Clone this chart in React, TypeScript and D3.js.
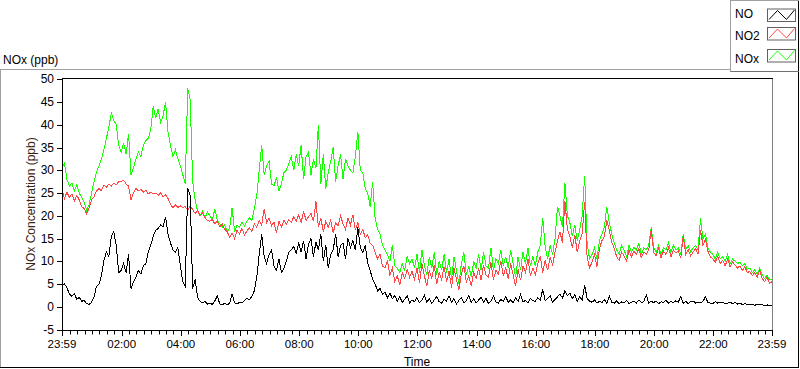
import React from 'react'
import * as d3 from 'd3'

// samples every 5 minutes, from 23:59 to 23:59 the next day (one row = one hour)
const STEP_MIN = 5

const NO_PPB = [
  4.6, 5.0, 4.2, 2.8, 2.3, 2.9, 1.6, 2.1, 1.2, 1.4, 0.7, 0.5,
  1.0, 2.2, 4.5, 5.0, 6.8, 10.2, 12.0, 11.0, 15.5, 16.5, 13.5, 7.5,
  8.0, 9.5, 7.5, 11.5, 4.0, 5.5, 6.5, 8.0, 7.2, 9.0, 9.5, 12.0,
  13.5, 15.5, 16.8, 17.2, 18.0, 17.5, 19.8, 16.0, 14.0, 12.5, 12.0, 13.0,
  9.0, 5.5, 4.5, 26.0, 24.5, 4.0, 6.0, 2.0, 1.2, 0.9, 1.2, 0.6,
  0.8, 0.5, 1.3, 2.4, 0.6, 0.4, 0.8, 0.5, 0.7, 2.8, 0.9, 0.6,
  1.0, 0.8, 1.4, 1.8, 1.6, 2.2, 3.5, 6.5, 11.5, 16.0, 11.0, 9.5,
  11.5, 12.5, 9.0, 8.0, 10.5, 7.5, 8.5, 10.0, 12.0, 12.5, 13.2, 11.8,
  14.0, 12.0, 14.5, 10.5, 13.8, 15.0, 11.0, 14.2, 12.5, 16.0, 10.0, 13.5,
  8.5, 11.5, 12.5, 16.0, 11.0, 13.5, 14.0, 10.5, 15.0, 13.0, 14.5, 12.5,
  17.5, 13.0, 12.0, 13.5, 9.5, 8.0, 6.0, 5.0, 3.5, 4.0, 2.8, 3.2,
  2.0, 3.0, 1.8, 2.5, 1.2, 2.2, 1.0, 1.6, 2.4, 0.8, 1.5, 1.1,
  2.0, 0.9, 1.4, 2.6, 1.0, 1.8, 0.7, 1.5, 2.2, 1.1, 0.8, 1.6,
  1.2, 2.4, 1.0, 1.8, 0.6, 1.4, 2.0, 0.9, 1.3, 2.5, 1.0, 1.7,
  0.8, 1.5, 2.1, 1.0, 1.8, 0.7, 1.2, 2.4, 1.1, 0.8, 1.6, 1.2,
  2.2, 1.0, 1.5, 0.8, 1.9, 1.2, 2.7, 1.0, 1.4, 0.9, 1.8, 1.3,
  1.2, 2.0, 1.5, 3.8, 1.3, 1.8, 2.4, 1.0, 1.6, 2.2, 2.8, 1.9,
  3.5, 2.5, 3.0, 1.8, 2.6, 1.2, 2.2, 1.5, 4.8, 1.8, 1.2, 1.0,
  1.5, 0.8, 1.2, 0.9, 1.6, 0.7, 2.4, 1.0, 0.8, 1.3, 0.6, 1.1,
  0.9, 1.4, 0.7, 1.0, 1.2, 0.8, 1.5, 0.9, 1.1, 2.6, 0.8, 1.2,
  0.9, 1.3, 0.7, 1.1, 1.0, 1.4, 0.8, 1.2, 0.9, 1.3, 1.0, 2.3,
  0.8, 1.2, 0.7, 1.1, 1.3, 0.8, 1.0, 0.9, 1.2, 2.2, 0.9, 0.8,
  0.7, 1.1, 0.8, 0.9, 1.0, 0.6, 0.8, 1.0, 0.7, 0.9, 0.6, 0.8,
  0.5, 0.7, 0.4, 0.6, 0.5, 0.3, 0.6, 0.4, 0.5, 0.2, 0.4, 0.3,
  0.3
]

const NO2_PPB = [
  26.0, 23.8, 25.2, 24.0, 24.8, 23.2, 24.5, 23.5, 22.0, 21.6, 20.4, 21.8,
  23.5, 24.2, 25.5, 26.0, 25.5, 26.8, 26.2, 27.0, 26.5, 27.2, 26.8, 27.5,
  27.5, 27.8, 27.0, 26.5, 23.5, 25.0, 26.0, 25.5, 25.8, 25.2, 25.6, 24.8,
  25.2, 24.8, 25.0, 24.5, 25.0, 24.2, 24.6, 23.8, 22.5, 21.8, 22.4, 21.8,
  22.2, 21.8, 22.0, 21.2, 22.2, 21.4, 20.5, 21.2, 20.0, 20.6, 19.5, 19.0,
  18.8, 19.2, 18.2, 18.8, 17.6, 18.2, 17.0, 16.5, 15.3, 16.2, 15.0, 16.8,
  16.0, 17.2, 15.8, 16.6, 17.4, 16.5, 18.2, 17.5, 19.0, 18.0, 21.5, 18.5,
  19.5, 17.8, 18.6, 16.2, 18.8, 17.5, 19.0, 18.2, 19.2, 18.5, 19.8, 18.8,
  20.2, 18.5, 21.0, 19.0, 19.8, 20.5, 18.8, 23.2, 17.5, 19.5, 16.5, 18.8,
  17.5, 19.0, 16.2, 18.5, 17.8, 20.0, 18.2, 17.0, 19.5, 18.0, 20.2, 16.8,
  18.5, 16.0, 17.0, 15.2, 15.8, 14.0, 13.5, 12.0, 10.5, 11.5, 9.0, 8.5,
  10.2, 7.0, 8.5, 5.5, 6.8, 4.8, 7.5, 6.2, 8.2, 6.5, 7.8, 6.0,
  8.5, 5.2, 9.5, 6.8, 4.5, 8.0, 6.2, 9.2, 5.0, 7.5, 6.0, 8.8,
  5.5, 7.8, 4.2, 8.5, 6.0, 3.8, 7.2, 9.0, 5.5, 6.8, 4.5, 7.5,
  6.2, 8.5, 5.8, 9.2, 7.0, 6.5, 9.8, 6.0, 8.0, 7.2, 10.0, 6.8,
  8.5, 6.2, 9.5, 7.0, 4.5, 8.2, 5.8, 9.0, 7.5, 10.5, 6.8, 8.5,
  7.0, 9.5, 11.2, 7.5, 10.2, 8.0, 10.8, 9.2, 12.0, 14.5, 16.5, 14.0,
  23.3, 17.0, 15.5, 13.0, 15.8, 12.0, 14.5, 16.0, 23.0, 11.0, 8.5, 9.8,
  11.5, 8.8, 12.8, 14.5, 15.5, 19.0, 16.8, 14.2, 12.8, 11.0, 10.2, 12.0,
  11.2, 10.0, 12.5, 11.0, 12.2, 11.5, 12.8, 10.8, 12.0, 11.5, 12.5, 17.0,
  12.0, 11.2, 12.8, 10.8, 12.2, 11.5, 13.0, 11.0, 12.5, 11.8, 12.2, 10.8,
  15.5, 11.5, 12.5, 11.2, 12.0, 12.8, 11.5, 16.8, 13.5, 14.8, 12.2, 11.0,
  10.5, 9.8, 11.0, 9.5, 10.2, 9.0, 10.5, 8.8, 9.8, 9.2, 8.5, 9.0,
  8.0, 8.8, 7.5, 7.8, 6.8, 7.5, 6.5, 8.0, 6.2, 5.5, 6.5, 5.2,
  5.5
]

const NOX_PPB = [
  30.5, 31.5, 28.0, 26.5, 27.2, 25.5, 26.8, 25.0, 24.0, 23.0, 21.2, 22.5,
  25.0, 27.5, 29.5, 31.0, 32.5, 34.5, 37.0, 39.5, 42.5, 41.0, 40.0, 35.5,
  34.0, 36.0, 33.5, 38.0, 29.0, 30.5, 32.5, 34.0, 33.0, 35.5, 36.5, 37.0,
  39.0, 44.0, 41.5, 43.5, 40.5, 42.0, 45.0, 38.5, 35.5, 33.0, 34.5, 32.5,
  31.0, 29.0, 27.0, 48.0, 45.5, 27.5, 23.5, 21.0, 20.0, 21.0, 19.5, 20.8,
  20.0, 19.2, 21.5, 19.0, 18.2, 17.5, 18.0, 16.5, 17.2, 21.8, 16.5, 18.0,
  17.5, 18.5, 17.8, 18.8, 19.5, 19.0, 21.5, 24.5, 30.0, 35.5, 29.0, 31.0,
  32.0, 27.0, 26.5, 28.5, 25.5, 27.0, 29.5, 30.0, 31.5, 33.0, 30.0, 33.5,
  31.0, 35.5, 28.0, 33.0, 34.0, 29.0, 32.5, 30.5, 40.0, 27.0, 33.5, 26.0,
  29.5, 32.0, 35.0, 27.5, 31.0, 33.5, 28.0, 32.5, 31.0, 30.0, 29.5, 33.0,
  38.5, 30.0, 29.5, 26.0, 25.0, 22.0, 27.5, 19.5, 17.0, 16.0, 13.5, 12.5,
  11.5, 10.0, 13.5, 9.0, 8.5, 7.5, 9.5, 8.0, 11.0, 9.5, 10.5, 8.5,
  11.5, 7.5, 12.5, 9.0, 7.0, 11.0, 8.5, 12.0, 7.0, 10.0, 8.0, 11.5,
  7.5, 10.5, 6.0, 11.0, 8.0, 5.0, 9.5, 12.0, 7.0, 9.0, 6.5, 10.0,
  8.5, 11.5, 8.0, 12.0, 9.0, 8.5, 13.0, 8.0, 10.5, 9.5, 12.5, 9.0,
  11.0, 8.5, 12.5, 9.5, 6.5, 11.0, 8.0, 12.0, 9.5, 13.0, 9.0, 11.0,
  9.0, 12.0, 13.5, 19.5, 13.0, 10.5, 13.5, 11.5, 15.0, 22.0, 20.0, 17.5,
  27.3, 20.0, 18.5, 15.5, 18.0, 14.5, 17.0, 20.0, 28.8, 14.0, 10.5, 11.5,
  13.0, 10.5, 14.5, 16.0, 17.5, 22.0, 18.5, 16.0, 14.0, 12.5, 11.5, 13.5,
  12.5, 11.0, 13.5, 12.0, 13.0, 12.5, 14.0, 11.5, 13.0, 12.5, 13.5, 17.5,
  13.0, 12.0, 13.5, 11.5, 13.0, 12.5, 14.0, 12.0, 13.5, 12.5, 13.0, 11.5,
  16.0, 12.5, 13.5, 12.0, 13.0, 13.5, 12.5, 19.4, 15.0, 16.0, 13.0, 12.0,
  11.5, 10.5, 12.0, 10.5, 11.0, 10.0, 11.5, 9.5, 10.5, 10.0, 9.5, 9.8,
  9.0, 9.5, 8.2, 8.5, 7.5, 8.2, 7.2, 8.5, 7.0, 6.2, 7.0, 6.0,
  6.0
]

const SERIES = ['NO', 'NO2', 'NOx']
const SERIES_COLORS = ['#000000', '#ff4646', '#14ff00']
const Y_TICKS = [-5, 0, 5, 10, 15, 20, 25, 30, 35, 40, 45, 50]

const W = 800
const H = 369
const FONT = '"Liberation Sans", Arial, sans-serif'

const t0 = new Date(2000, 0, 1, 23, 59)
const t1 = new Date(t0.getTime() + 24 * 3600 * 1000)
const timeAt = (i: number) => new Date(t0.getTime() + i * STEP_MIN * 60000)

export default function App () {
  const x = d3.scaleTime().domain([t0, t1]).range([62, 772])
  const y = d3.scaleLinear().domain([-5, 50]).range([329.5, 79.3])
  const fmt = d3.timeFormat('%H:%M')

  // major ticks: start, every 2 h on the clock (02:00 .. 22:00), end
  const inner = d3.timeHour.every(2)!.range(new Date(t0.getTime() + 60000), t1)
    .filter(d => +d - +t0 > 30 * 60000 && +t1 - +d > 30 * 60000)
  const major = [t0, ...inner, t1]
  // minor ticks every quarter hour
  const minor = d3.timeMinute.every(15)!.range(new Date(t0.getTime() + 60000), t1)
    .filter(d => !major.some(m => Math.abs(+m - +d) < 5 * 60000))

  const line = d3.line<number>()
    .x((d, i) => x(timeAt(i)))
    .y(d => y(d))

  const data = [NO_PPB, NO2_PPB, NOX_PPB]
  const drawOrder = [2, 1, 0] // NOx underneath, NO on top

  const legendRows = [
    { base: 17.5, boxY: 9 },
    { base: 39.5, boxY: 27.5 },
    { base: 63, boxY: 49.5 }
  ]

  return (
    <svg width={W} height={H} style={{ position: 'absolute', left: 0, top: 0, display: 'block' }}
      fontFamily={FONT}>
      <rect width={W} height={H} fill='#ffffff' />

      {/* outer frame */}
      <line x1={0} x2={731} y1={69.5} y2={69.5} stroke='#a0a0a0' />
      <line x1={0.5} x2={0.5} y1={69.5} y2={368} stroke='#a0a0a0' />
      <line x1={0} x2={799} y1={367.5} y2={367.5} stroke='#000' />
      <line x1={798.5} x2={798.5} y1={0} y2={368} stroke='#000' />

      <text x={3} y={64} fontSize={12} fill='#000'>NOx (ppb)</text>

      {/* legend */}
      <line x1={730.5} x2={730.5} y1={0} y2={72} stroke='#a0a0a0' />
      <line x1={730.5} x2={799} y1={71.5} y2={71.5} stroke='#707070' />
      <line x1={730.5} x2={799} y1={0.5} y2={0.5} stroke='#a0a0a0' />
      {SERIES.map((s, i) => {
        const r = legendRows[i]
        const bx = 767.5
        const bw = 28
        const bh = 12.5
        return (
          <g key={s}>
            <text x={735} y={r.base} fontSize={12} fill='#000'>{s}</text>
            <rect x={bx} y={r.boxY} width={bw} height={bh} fill='#fff' stroke='#606060' />
            <polyline
              points={`${bx + 1.5},${r.boxY + bh - 2} ${bx + 10},${r.boxY + 1.5} ${bx + 19},${r.boxY + bh - 2} ${bx + 27},${r.boxY + 1}`}
              fill='none' stroke={SERIES_COLORS[i]} strokeWidth={1} />
          </g>
        )
      })}

      {/* plot area */}
      <rect x={62} y={78} width={710} height={252} fill='#fff' />
      <line x1={772.5} x2={772.5} y1={78} y2={330} stroke='#808080' />
      <line x1={62} x2={773} y1={78.5} y2={78.5} stroke='#000' />

      <g shapeRendering='crispEdges'>
        {drawOrder.map(k => (
          <path key={SERIES[k]} d={line(data[k]) || ''} fill='none'
            stroke={SERIES_COLORS[k]} strokeWidth={1} />
        ))}
      </g>

      {/* y axis */}
      <line x1={62.5} x2={62.5} y1={78} y2={330.5} stroke='#000' />
      {Y_TICKS.map(v => (
        <g key={v}>
          <line x1={57} x2={62} y1={Math.round(y(v)) + 0.5} y2={Math.round(y(v)) + 0.5} stroke='#000' />
          <text x={54} y={y(v) + 4} fontSize={12} textAnchor='end' fill='#000'>{v}</text>
        </g>
      ))}
      <text transform={`translate(35,204) rotate(-90)`} fontSize={12} textAnchor='middle' fill='#3a2410'>
        NOx Concentration (ppb)
      </text>

      {/* x axis */}
      <line x1={62} x2={773} y1={330.5} y2={330.5} stroke='#000' />
      {minor.map(d => (
        <line key={+d} x1={Math.round(x(d)) + 0.5} x2={Math.round(x(d)) + 0.5} y1={331} y2={334.5} stroke='#000' />
      ))}
      {major.map(d => (
        <g key={+d}>
          <line x1={Math.round(x(d)) + 0.5} x2={Math.round(x(d)) + 0.5} y1={331} y2={336} stroke='#000' />
          <text x={x(d)} y={348} fontSize={11.5} textAnchor='middle' fill='#000'>{fmt(d)}</text>
        </g>
      ))}
      <text x={417} y={366} fontSize={12} textAnchor='middle' fill='#000'>Time</text>
    </svg>
  )
}
